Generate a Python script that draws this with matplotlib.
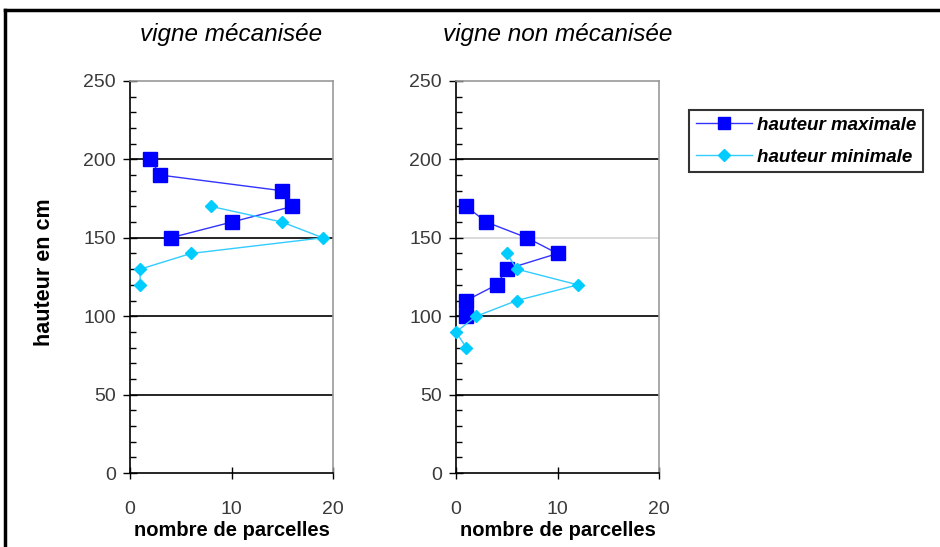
import matplotlib.pyplot as plt
from matplotlib.lines import Line2D
import numpy as np

# left panel: vigne mécanisée
meca_max_x = [2, 3, 15, 16, 10, 4]
meca_max_y = [200, 190, 180, 170, 160, 150]
meca_min_x = [8, 15, 19, 6, 1, 1]
meca_min_y = [170, 160, 150, 140, 130, 120]

# right panel: vigne non mécanisée
non_max_x = [1, 3, 7, 10, 5, 4, 1, 1]
non_max_y = [170, 160, 150, 140, 130, 120, 110, 100]
non_min_x = [5, 6, 12, 6, 2, 0, 1]
non_min_y = [140, 130, 120, 110, 100, 90, 80]

titles = ['vigne mécanisée', 'vigne non mécanisée']
legend_labels = ['hauteur maximale', 'hauteur minimale']
grid_vals = [50, 100, 150, 200]

blue = '#0000ff'
cyan = '#00ccff'

plt.rcParams['font.family'] = ['Liberation Sans', 'DejaVu Sans']

fig = plt.figure(figsize=(9.4, 5.47), dpi=100)

# outer frame (left and top only)
fig.add_artist(Line2D([5/940, 5/940], [0, 1 - 10/547], color='black', lw=2.5, transform=fig.transFigure))
fig.add_artist(Line2D([5/940, 1], [1 - 10/547, 1 - 10/547], color='black', lw=2.5, transform=fig.transFigure))

panels = [
    (130, meca_max_x, meca_max_y, meca_min_x, meca_min_y, ['black', 'black', 'black', 'black']),
    (456, non_max_x, non_max_y, non_min_x, non_min_y, ['black', 'black', '#d4d4d4', 'black']),
]

for i, (x0, mx, my, nx, ny, gcols) in enumerate(panels):
    ax = fig.add_axes([x0/940, 1 - 473/547, 203/940, 392/547])
    ax.set_xlim(0, 20)
    ax.set_ylim(0, 250)
    for g, c in zip(grid_vals, gcols):
        ax.axhline(g, color=c, lw=1.2, zorder=1)
    ax.plot(mx, my, color='#3333ff', lw=1, marker='s', markersize=9.5,
            markerfacecolor=blue, markeredgecolor=blue, zorder=3, clip_on=False)
    ax.plot(nx, ny, color='#33ccff', lw=1, marker='D', markersize=6.5,
            markerfacecolor=cyan, markeredgecolor=cyan, zorder=3, clip_on=False)
    for s in ['top', 'right']:
        ax.spines[s].set_color('#999999')
        ax.spines[s].set_linewidth(1.2)
    for s in ['left', 'bottom']:
        ax.spines[s].set_color('black')
        ax.spines[s].set_linewidth(1.2)
    ax.set_xticks([0, 10, 20])
    ax.set_yticks(np.arange(0, 251, 50))
    ax.set_yticks(np.arange(0, 251, 10), minor=True)
    ax.tick_params(axis='y', which='major', direction='inout', length=10, width=1, labelsize=14,
                   labelcolor='#3a3a3a', pad=5)
    ax.tick_params(axis='y', which='minor', direction='in', length=4, width=1)
    ax.tick_params(axis='x', which='major', direction='inout', length=8, width=1, labelsize=14,
                   labelcolor='#3a3a3a', pad=16)
    ax.set_title(titles[i], fontsize=17.5, style='italic', pad=29)
    ax.set_xlabel('nombre de parcelles', fontsize=14.5, fontweight='bold', labelpad=2)

fig.text(45/940, 1 - 272/547, 'hauteur en cm', rotation=90, fontsize=15.5,
         fontweight='bold', ha='center', va='center')

handles = [
    Line2D([], [], color='#3333ff', lw=1, marker='s', markersize=8, markerfacecolor=blue, markeredgecolor=blue),
    Line2D([], [], color='#33ccff', lw=1, marker='D', markersize=6, markerfacecolor=cyan, markeredgecolor=cyan),
]
leg = fig.legend(handles, legend_labels, loc='upper left', bbox_to_anchor=(689/940, 1 - 110/547),
                 frameon=True, fancybox=False, edgecolor='black', handlelength=3.0,
                 prop={'size': 13.5, 'weight': 'bold', 'style': 'italic'}, borderpad=0.35,
                 borderaxespad=0, labelspacing=0.8, handletextpad=0.3)
leg.get_frame().set_linewidth(1.5)

fig.savefig('out.png', dpi=100)
